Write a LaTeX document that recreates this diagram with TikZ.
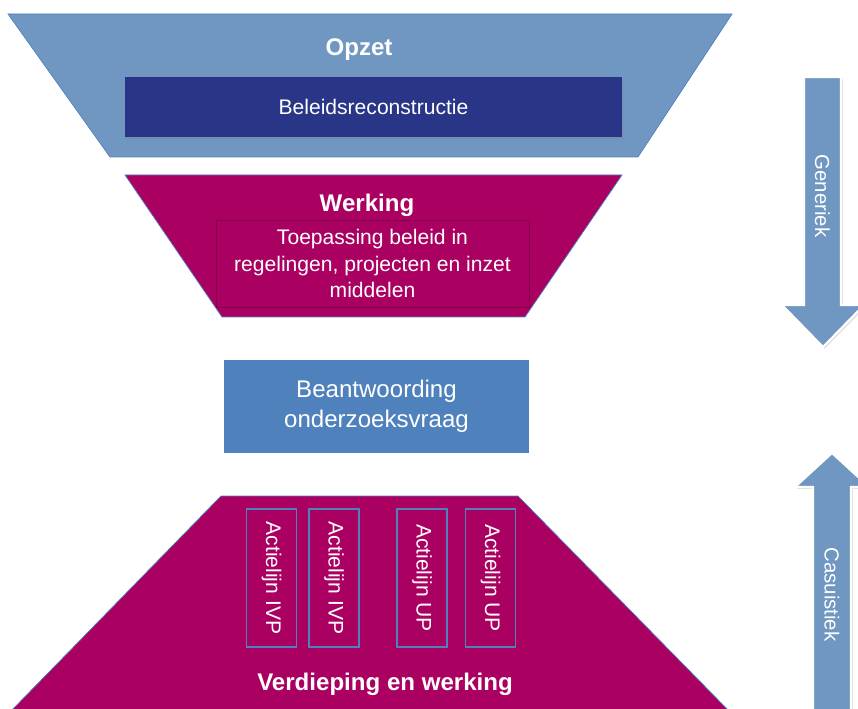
\documentclass[tikz,border=0pt]{standalone}
\usepackage{fontspec}
\setmainfont{Liberation Sans}
\usetikzlibrary{positioning,shadows}

\definecolor{funnelblue}{RGB}{111,151,193}
\definecolor{navyblue}{RGB}{41,53,135}
\definecolor{plum}{RGB}{170,0,98}
\definecolor{answerblue}{RGB}{79,129,189}
\definecolor{edgeblue}{RGB}{79,129,189}

\begin{document}
\begin{tikzpicture}
[   x=0.02cm, y=-0.02cm,
    funnel/.style={draw=edgeblue, line width=0.4pt},
    titletext/.style={text=white, font=\fontsize{13.7pt}{16pt}\selectfont\bfseries},
    bodytext/.style={text=white, align=center, font=\fontsize{12pt}{15pt}\selectfont},
    actbox/.style={draw=edgeblue, line width=0.7pt, fill=plum, rotate=-90, minimum width=2.76cm, minimum height=1.0cm, inner sep=0pt, text=white, font=\fontsize{12pt}{14pt}\selectfont},
    bigarrow/.style={fill=funnelblue, draw=white, line width=1.2pt, drop shadow={opacity=0.25, shadow xshift=1pt, shadow yshift=-1pt}},
    arrowtext/.style={rotate=-90, text=white, font=\fontsize{11.6pt}{14pt}\selectfont}, ]
    \useasboundingbox (0,0) rectangle (858,709);
    \clip (0,0) rectangle (858,709);

    % bovenste trechter
    \draw[funnel, fill=funnelblue] (8,14) -- (732,14) -- (638,157) -- (110,157) -- cycle;
    \node[titletext] (opzet) at (359,50) {Opzet};
    \node[bodytext, fill=navyblue, minimum width=9.94cm, minimum height=1.2cm, drop shadow={opacity=0.3, shadow xshift=0.5pt, shadow yshift=-1pt}] (beleid) at (373.5,107) {Beleidsreconstructie};

    \draw[funnel, fill=plum] (125,175) -- (622,175) -- (525,317) -- (222,317) -- cycle;
    \node[titletext] (werking) at (367,205) {Werking};
    \node[bodytext, draw=plum!75!black, fill=plum, minimum width=6.26cm, minimum height=1.74cm] (toepassing) at (372.5,263.5) {Toepassing beleid in\\regelingen, projecten en inzet\\middelen};

    \node[fill=answerblue, minimum width=6.1cm, minimum height=1.86cm, align=center, text=white, font=\fontsize{13.7pt}{17pt}\selectfont] (antwoord) at (376.5,406.5) {Beantwoording\\onderzoeksvraag};

    % onderste trechter
    \draw[funnel, fill=plum] (221,496) -- (518,496) -- (731,713) -- (9,713) -- cycle;
    \foreach \x/\t [count=\i] in {271.5/IVP, 334/IVP, 422/UP, 490.5/UP}
    {
        \node[actbox] (act-\i) at (\x,578) {Actielijn \t};
    }
    \node[titletext] (verdieping) at (385,684) {Verdieping en werking};

    % pijlen
    \draw[bigarrow] (804,77) -- (841,77) -- (841,305) -- (864,305) -- (823,347) -- (782,305) -- (804,305) -- cycle;
    \node[arrowtext] (generiek) at (822.5,196) {Generiek};
    \draw[bigarrow] (813,715) -- (813,487) -- (795,487) -- (832,453) -- (869,487) -- (851,487) -- (851,715) -- cycle;
    \node[arrowtext] (casuistiek) at (832,594.5) {Casuistiek};

\end{tikzpicture}
\end{document}
